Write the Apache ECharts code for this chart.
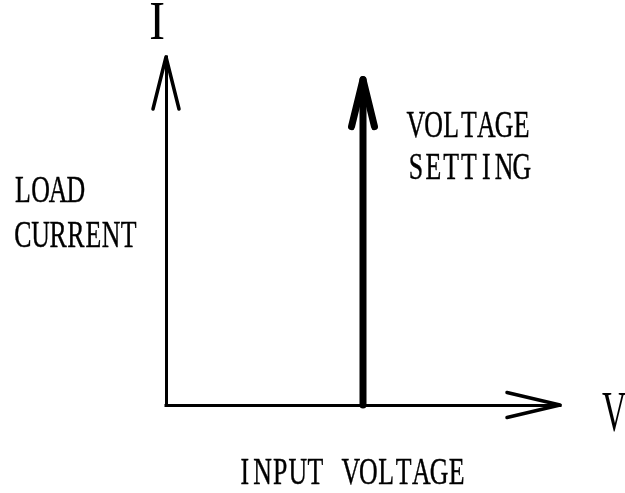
<!DOCTYPE html>
<html><head><meta charset="utf-8">
<script src="https://cdn.jsdelivr.net/npm/echarts@6/dist/echarts.min.js"></script>
<style>html,body{margin:0;padding:0;background:#fff}#c{width:625px;height:493px}</style>
</head><body><div id="c"></div>
<script>
// ---- data ----
const xRange = [0, 1];
const yRange = [0, 1];
const voltageSetting = [0.5];
const settingCurrent = [0.935];
const axisNames = ['V', 'I'];
const sideLabels = ['LOAD', 'CURRENT'];
const settingLabels = ['VOLTAGE', 'SETTING'];
const xAxisTitle = ['INPUT VOLTAGE'];

// ---- text helpers ----
const FONT = '"Liberation Serif", "Times New Roman", serif';
const ctx = document.createElement('canvas').getContext('2d');
function fitText(str, size, left, right, capCenter) {
  ctx.font = size + 'px ' + FONT;
  const m = ctx.measureText(str);
  const inkL = m.actualBoundingBoxLeft || 0;
  const inkW = (m.actualBoundingBoxRight || m.width) + inkL;
  const sx = (right - left) / inkW;
  return {
    type: 'text', x: left + inkL * sx, y: capCenter, scaleX: sx, scaleY: 1,
    style: { text: str, font: size + 'px ' + FONT, fill: '#000', align: 'left', verticalAlign: 'middle' },
    silent: true
  };
}
// monospaced condensed layout: each character centred in its own cell
function monoText(str, size, left, cell, capCenter, sx) {
  const children = [];
  for (let i = 0; i < str.length; i++) {
    const ch = str[i];
    if (ch === ' ') continue;
    children.push({
      type: 'text', x: left + (i + 0.5) * cell, y: capCenter, scaleX: sx,
      style: { text: ch, font: size + 'px ' + FONT, fill: '#000', stroke: '#000', lineWidth: 0.4,
               align: 'center', verticalAlign: 'middle' },
      silent: true
    });
  }
  return { type: 'group', children: children };
}

const chart = echarts.init(document.getElementById('c'), null, { renderer: 'canvas' });

const arrowTips = [
  [xRange[1], yRange[0]],
  [xRange[0], yRange[1]],
  [voltageSetting[0], settingCurrent[0]]
];

const axisCommon = {
  type: 'value',
  axisLine: { show: true, onZero: false, lineStyle: { color: '#000', width: 3, cap: 'square' } },
  axisTick: { show: false }, axisLabel: { show: false }, splitLine: { show: false }
};

const CELL = 17.65, SX = 0.68;

chart.setOption({
  animation: false,
  backgroundColor: '#fff',
  grid: { left: 166, top: 57, width: 394, height: 348 },
  xAxis: Object.assign({ min: xRange[0], max: xRange[1] }, axisCommon),
  yAxis: Object.assign({ min: yRange[0], max: yRange[1] }, axisCommon),
  series: [
    {
      type: 'line', symbol: 'none', clip: false,
      data: [[voltageSetting[0], yRange[0]], [voltageSetting[0], settingCurrent[0]]],
      lineStyle: { color: '#000', width: 7, cap: 'round' }, z: 3
    },
    {
      type: 'custom', clip: false, z: 4,
      data: arrowTips,
      renderItem: function (params, api) {
        const p = api.coord([api.value(0), api.value(1)]);
        const i = params.dataIndex;
        let pts, w;
        if (i === 0) { pts = [[p[0] - 53, p[1] - 12.5], p, [p[0] - 53, p[1] + 12.5]]; w = 3.5; }
        else if (i === 1) { pts = [[p[0] - 13, p[1] + 52], p, [p[0] + 13, p[1] + 52]]; w = 3.5; }
        else { pts = [[p[0] - 11.5, p[1] + 47], p, [p[0] + 11.5, p[1] + 47]]; w = 7; }
        return {
          type: 'polyline', shape: { points: pts },
          style: { stroke: '#000', lineWidth: w, fill: null, lineCap: 'round', lineJoin: 'round' }
        };
      }
    }
  ],
  graphic: [
    fitText(axisNames[1], 54, 150, 164, 25),
    fitText(axisNames[0], 56, 602, 626, 416.5),
    monoText(sideLabels[0], 38, 14, CELL, 192.5, SX),
    monoText(sideLabels[1], 38, 14, CELL, 237.5, SX),
    monoText(settingLabels[0], 38, 407, CELL, 127.5, SX),
    monoText(settingLabels[1], 38, 407, CELL, 169.5, SX),
    monoText(xAxisTitle[0], 38, 236, CELL, 474.5, SX)
  ]
});
</script>
</body></html>
